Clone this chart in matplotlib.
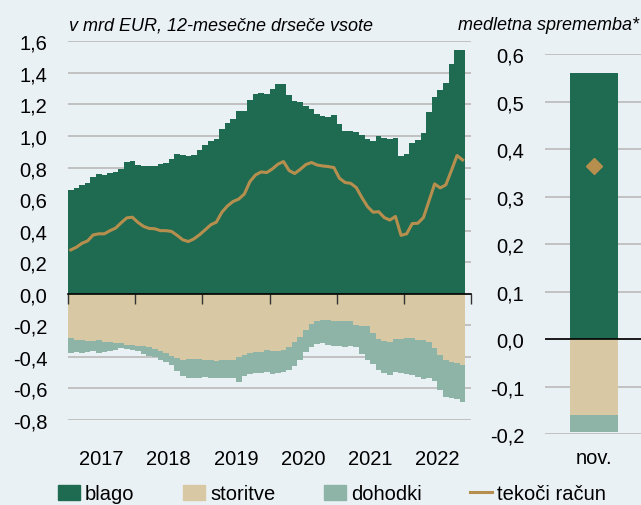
import numpy as np
import matplotlib.pyplot as plt
from matplotlib.patches import Patch
from matplotlib.lines import Line2D

plt.rcParams['font.family'] = ['Liberation Sans', 'DejaVu Sans']

# monthly data, Jan 2017 - Nov 2022 (12-month rolling sums, bn EUR)
years = ['2017', '2018', '2019', '2020', '2021', '2022']
blago = [0.66, 0.67, 0.69, 0.705, 0.74, 0.76, 0.755, 0.765, 0.77, 0.79, 0.835, 0.84,
         0.815, 0.81, 0.81, 0.812, 0.825, 0.83, 0.857, 0.888, 0.88, 0.876, 0.882, 0.91,
         0.945, 0.97, 0.98, 1.042, 1.085, 1.11, 1.156, 1.161, 1.226, 1.266, 1.275, 1.264,
         1.297, 1.327, 1.332, 1.262, 1.222, 1.215, 1.19, 1.17, 1.138, 1.129, 1.12, 1.136,
         1.076, 1.034, 1.032, 1.023, 1.006, 0.979, 0.965, 1.003, 0.985, 0.981, 0.987, 0.87,
         0.886, 0.958, 0.975, 1.022, 1.15, 1.249, 1.291, 1.338, 1.454, 1.542, 1.542]
storitve = [-0.28, -0.291, -0.295, -0.299, -0.297, -0.293, -0.306, -0.308, -0.31, -0.312, -0.323, -0.327,
            -0.329, -0.331, -0.339, -0.348, -0.365, -0.375, -0.392, -0.407, -0.418, -0.414, -0.414, -0.413,
            -0.418, -0.418, -0.424, -0.421, -0.42, -0.418, -0.403, -0.39, -0.375, -0.371, -0.369, -0.358,
            -0.362, -0.362, -0.356, -0.335, -0.308, -0.276, -0.232, -0.192, -0.171, -0.165, -0.167, -0.172,
            -0.175, -0.175, -0.171, -0.196, -0.206, -0.206, -0.249, -0.285, -0.297, -0.303, -0.289, -0.285,
            -0.28, -0.283, -0.291, -0.293, -0.308, -0.344, -0.386, -0.422, -0.432, -0.439, -0.449]
dohodki = [-0.095, -0.08, -0.08, -0.07, -0.064, -0.08, -0.063, -0.055, -0.044, -0.032, -0.029, -0.027,
           -0.036, -0.049, -0.053, -0.055, -0.053, -0.057, -0.057, -0.084, -0.105, -0.12, -0.119, -0.123,
           -0.111, -0.116, -0.112, -0.115, -0.116, -0.118, -0.154, -0.133, -0.133, -0.133, -0.133, -0.138,
           -0.144, -0.14, -0.14, -0.148, -0.148, -0.142, -0.137, -0.145, -0.147, -0.149, -0.155, -0.158,
           -0.158, -0.162, -0.162, -0.143, -0.176, -0.212, -0.194, -0.2, -0.205, -0.21, -0.207, -0.217,
           -0.228, -0.23, -0.234, -0.245, -0.226, -0.211, -0.222, -0.232, -0.228, -0.229, -0.236]
tekoci = [0.278, 0.295, 0.32, 0.335, 0.373, 0.38, 0.38, 0.4, 0.416, 0.45, 0.481, 0.485,
          0.452, 0.427, 0.414, 0.412, 0.4, 0.4, 0.395, 0.37, 0.342, 0.331, 0.348, 0.374,
          0.405, 0.437, 0.454, 0.517, 0.557, 0.585, 0.6, 0.632, 0.711, 0.753, 0.772, 0.768,
          0.791, 0.821, 0.838, 0.781, 0.762, 0.789, 0.819, 0.832, 0.816, 0.81, 0.806, 0.8,
          0.732, 0.705, 0.7, 0.673, 0.61, 0.553, 0.517, 0.52, 0.483, 0.467, 0.49, 0.37,
          0.38, 0.445, 0.447, 0.483, 0.589, 0.696, 0.671, 0.69, 0.781, 0.876, 0.848]

# year-on-year change (right panel)
sprem_label = ['nov.']
sprem_blago = [0.56]
sprem_storitve = [-0.16]
sprem_dohodki = [-0.035]
sprem_tekoci = [0.365]

GREEN = '#1F6B51'
TAN = '#D8C9A4'
SAGE = '#8DB4A6'
GOLD = '#B68F4E'
BG = '#EAF1F5'
GRID = '#BEBEBE'
FS = 14.5


def comma(v, pos=None):
    return f"{v + 0.0:.1f}".replace('.', ',')


fig = plt.figure(figsize=(6.41, 5.06), dpi=100, facecolor=BG)

# --- left panel ---
ax = fig.add_axes([0.1061, 0.168, 0.6287, 0.7484], facecolor=BG)
x = np.arange(len(blago))
# no antialiasing so neighbouring bars merge without seams
ax.bar(x, blago, width=1.0, color=GREEN, linewidth=0, antialiased=False)
ax.bar(x, storitve, width=1.0, color=TAN, linewidth=0, antialiased=False)
ax.bar(x, dohodki, width=1.0, bottom=storitve, color=SAGE, linewidth=0, antialiased=False)
ax.plot(x, tekoci, color=GOLD, linewidth=2.2, zorder=4)

ax.set_xlim(-0.5, 71.5)
ax.set_ylim(-0.8, 1.6)
yt = np.round(np.arange(-0.8, 1.61, 0.2), 1)
ax.set_yticks(yt)
ax.yaxis.set_major_formatter(plt.FuncFormatter(comma))
ax.set_axisbelow(True)
ax.grid(axis='y', color=GRID, linewidth=1.3)
ax.set_xticks(np.arange(5.5, 72, 12))
ax.set_xticklabels(years)
ax.tick_params(axis='x', length=0, pad=21, labelsize=FS)
ax.tick_params(axis='y', length=0, pad=15, labelsize=FS)
for s in ax.spines.values():
    s.set_visible(False)

# zero line with year boundary ticks
zero = ax.secondary_xaxis(0.8 / 2.4)
zero.set_zorder(5)
zero.set_xticks(np.arange(-0.5, 72, 12))
zero.set_xticklabels([])
zero.tick_params(axis='x', length=7, width=1, color='#333333', direction='out')
zero.spines['bottom'].set_color('black')
zero.spines['bottom'].set_linewidth(1.2)

# --- right panel ---
ax2 = fig.add_axes([0.8502, 0.1403, 0.1498, 0.751], facecolor=BG)
x2 = np.arange(len(sprem_label))
ax2.bar(x2, sprem_blago, width=1.0, color=GREEN)
ax2.bar(x2, sprem_storitve, width=1.0, color=TAN)
ax2.bar(x2, sprem_dohodki, width=1.0, bottom=sprem_storitve, color=SAGE)
ax2.plot(x2, sprem_tekoci, linestyle='none', marker='D', markersize=8.5, color=GOLD, zorder=4)
ax2.axhline(0, color='black', linewidth=1.2, zorder=3)
ax2.set_xlim(-1.02, 0.98)
ax2.set_ylim(-0.2, 0.6)
ax2.set_yticks(np.round(np.arange(-0.2, 0.61, 0.1), 1))
ax2.yaxis.set_major_formatter(plt.FuncFormatter(comma))
ax2.set_axisbelow(True)
ax2.grid(axis='y', color=GRID, linewidth=1.3)
ax2.set_xticks(x2)
ax2.set_xticklabels(sprem_label)
ax2.tick_params(axis='x', length=0, pad=10, labelsize=FS)
ax2.tick_params(axis='y', length=0, pad=15, labelsize=FS)
for s in ax2.spines.values():
    s.set_visible(False)

fig.text(69 / 641, 1 - 26 / 506, 'v mrd EUR, 12-mesečne drseče vsote', style='italic',
         fontsize=13, ha='left', va='center')
fig.text(639 / 641, 1 - 26 / 506, 'medletna sprememba*', style='italic',
         fontsize=13, ha='right', va='center')

handles = [Patch(color=GREEN), Patch(color=TAN), Patch(color=SAGE),
           Line2D([], [], color=GOLD, linewidth=2.2)]
fig.legend(handles, ['blago', 'storitve', 'dohodki', 'tekoči račun'], ncol=4,
           loc='center left', bbox_to_anchor=(58 / 641, 11 / 506), frameon=False,
           fontsize=FS, borderpad=0, borderaxespad=0, handlelength=1.1,
           handletextpad=0.25, columnspacing=2.4)

fig.savefig('out.png', dpi=100, facecolor=BG)
